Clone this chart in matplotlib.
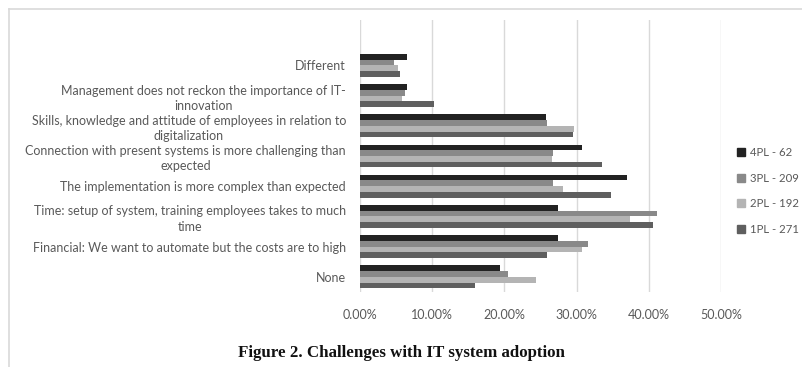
import matplotlib
matplotlib.use("Agg")
import matplotlib.pyplot as plt
from matplotlib.lines import Line2D
import numpy as np

# categories, bottom to top
categories = [
    "None",
    "Financial: We want to automate but the costs are to high",
    "Time: setup of system, training employees takes to much\ntime",
    "The implementation is more complex than expected",
    "Connection with present systems is more challenging than\nexpected",
    "Skills, knowledge and attitude of employees in relation to\ndigitalization",
    "Management does not reckon the importance of IT-\ninnovation",
    "Different",
]

# share of respondents per group (fraction), same order as categories
pl1 = [0.159, 0.259, 0.406, 0.347, 0.335, 0.295, 0.103, 0.055]
pl2 = [0.244, 0.307, 0.374, 0.281, 0.266, 0.297, 0.058, 0.052]
pl3 = [0.205, 0.316, 0.411, 0.268, 0.268, 0.259, 0.062, 0.047]
pl4 = [0.194, 0.274, 0.274, 0.370, 0.307, 0.257, 0.065, 0.065]

series_labels = ["1PL - 271", "2PL - 192", "3PL - 209", "4PL - 62"]
colors = ["#5f5f5f", "#b4b4b4", "#898989", "#222222"]

plt.rcParams["font.family"] = ["Lato", "DejaVu Sans"]
text_grey = "#595959"

fig = plt.figure(figsize=(8.02, 3.67), dpi=100)
ax = fig.add_axes([360 / 802, 75 / 367, 361 / 802, 272 / 367])

y = np.arange(len(categories))
h = 0.19
for k, (vals, col) in enumerate(zip([pl1, pl2, pl3, pl4], colors)):
    ax.barh(y + (k - 1.5) * h, vals, height=h, color=col, zorder=3)

ax.set_xlim(0, 0.5)
ax.set_ylim(-0.5, len(categories) + 0.5)
ax.set_xticks(np.arange(0, 0.51, 0.1))
ax.set_xticklabels([f"{v * 100:.2f}%" for v in np.arange(0, 0.51, 0.1)])
ax.set_yticks(y)
ax.set_yticklabels(categories, multialignment="center", linespacing=1.35)
ax.grid(axis="x", color="#d9d9d9", linewidth=1, zorder=0)
for s in ["top", "right", "bottom", "left"]:
    ax.spines[s].set_visible(False)
ax.tick_params(axis="both", length=0, labelsize=9, labelcolor=text_grey)
ax.tick_params(axis="y", pad=10)
ax.tick_params(axis="x", pad=12)

handles = [Line2D([], [], linestyle="none", marker="s", markersize=5.5,
                  color=c) for c in colors[::-1]]
fig.legend(handles, series_labels[::-1], loc="center left",
           bbox_to_anchor=(731 / 802, 1 - 191 / 367), frameon=False,
           fontsize=8.2, labelcolor=text_grey, handlelength=0.8,
           handletextpad=0.35, labelspacing=1.3, borderpad=0)

# chart frame
fig.add_artist(Line2D([9 / 802, 1], [1 - 8.5 / 367] * 2, color="#d9d9d9",
                      linewidth=1.2, transform=fig.transFigure))
fig.add_artist(Line2D([9 / 802] * 2, [0, 1 - 8.5 / 367], color="#d9d9d9",
                      linewidth=1.2, transform=fig.transFigure))

fig.text(401 / 802, 1 - 353 / 367, "Figure 2. Challenges with IT system adoption",
         ha="center", va="center", fontsize=12.2, fontweight="bold",
         family="Liberation Serif", color="#111111")

fig.savefig("out.png", dpi=100, facecolor="white")
